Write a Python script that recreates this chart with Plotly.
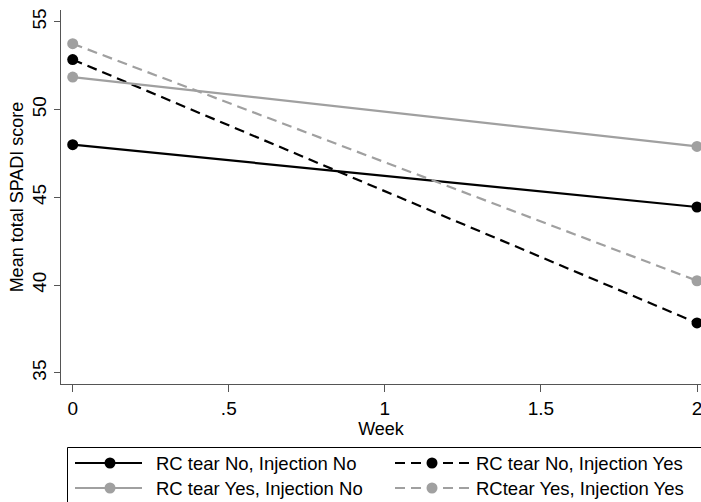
import plotly.graph_objects as go

# ---- data ----
weeks = [0, 2]
series_names = [
    "RC tear No, Injection No",
    "RC tear No, Injection Yes",
    "RC tear Yes, Injection No",
    "RCtear Yes, Injection Yes",
]
series_values = [
    [48.0, 44.45],
    [52.85, 37.85],
    [51.85, 47.9],
    [53.75, 40.25],
]
series_colors = ["#000000", "#000000", "#a0a0a0", "#a0a0a0"]
series_dash = ["solid", "10px,6px", "solid", "10px,6px"]
x_tick_vals = [0, 0.5, 1, 1.5, 2]
x_tick_text = ["0", ".5", "1", "1.5", "2"]
y_tick_vals = [35, 40, 45, 50, 55]
y_tick_text = ["35", "40", "45", "50", "55"]

W, H = 701, 502
L, R, T, B = 61, 0, 10, 118
PW, PH = W - L - R, H - T - B

FONT = "Liberation Sans, Arial, sans-serif"

fig = go.Figure()
for name, vals, col, dash in zip(series_names, series_values, series_colors, series_dash):
    fig.add_trace(go.Scatter(
        x=weeks, y=vals, mode="lines+markers", name=name,
        line=dict(color=col, width=2.2, dash=dash),
        marker=dict(color=col, size=11),
        showlegend=False, cliponaxis=False,
    ))

def px(x):
    return (x - L) / PW

def py(y):
    return (H - B - y) / PH

shapes = []
annotations = []
# legend box
shapes.append(dict(type="rect", xref="paper", yref="paper",
                   x0=px(67.5), x1=px(705), y0=py(447.5), y1=py(510),
                   line=dict(color="#000000", width=1), fillcolor="rgba(0,0,0,0)"))
legend_pos = [(75, 142, 110, 154, 463), (395, 470, 432, 474, 463),
              (75, 142, 110, 154, 488), (395, 470, 432, 474, 488)]
order = [0, 1, 2, 3]
for idx, (lx0, lx1, mx, tx, ly) in zip(order, legend_pos):
    col = series_colors[idx]
    dash = "solid" if series_dash[idx] == "solid" else "10px,6px"
    shapes.append(dict(type="line", xref="paper", yref="paper",
                       x0=px(lx0), x1=px(lx1), y0=py(ly), y1=py(ly),
                       line=dict(color=col, width=2.2, dash=dash)))
    shapes.append(dict(type="circle", xref="paper", yref="paper",
                       x0=px(mx - 5.5), x1=px(mx + 5.5), y0=py(ly - 5.5), y1=py(ly + 5.5),
                       line=dict(color=col, width=0), fillcolor=col))
    annotations.append(dict(xref="paper", yref="paper", x=px(tx), y=py(ly),
                            text=series_names[idx], showarrow=False,
                            xanchor="left", yanchor="middle",
                            font=dict(family=FONT, size=18.5, color="#000000")))

fig.update_layout(
    width=W, height=H,
    margin=dict(l=L, r=R, t=T, b=B, pad=0),
    paper_bgcolor="white", plot_bgcolor="white",
    font=dict(family=FONT, size=18, color="#000000"),
    shapes=shapes, annotations=annotations,
    xaxis=dict(
        range=[-0.0375, 2.0128], tickvals=x_tick_vals, ticktext=x_tick_text,
        showgrid=False, zeroline=False, showline=True, linecolor="#555555", linewidth=1.3,
        ticks="outside", ticklen=7, tickwidth=1.3, tickcolor="#555555",
        tickfont=dict(size=19), ticklabeloverflow="allow",
        title=dict(text="Week", font=dict(size=18), standoff=1),
    ),
    yaxis=dict(
        range=[34.37, 55.67], tickvals=y_tick_vals, ticktext=y_tick_text,
        showgrid=False, zeroline=False, showline=True, linecolor="#555555", linewidth=1.3,
        ticks="outside", ticklen=6, tickwidth=1.3, tickcolor="#555555",
        tickangle=-90, tickfont=dict(size=19),
        title=dict(text="Mean total SPADI score", font=dict(size=18), standoff=0),
    ),
)

fig.write_html("out.html")
